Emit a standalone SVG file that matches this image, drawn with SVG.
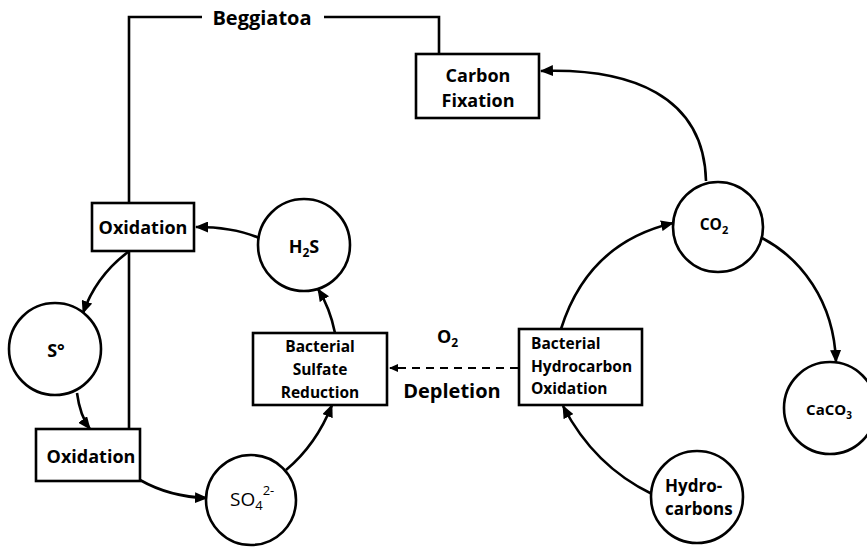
<svg xmlns="http://www.w3.org/2000/svg" width="867" height="547" viewBox="0 0 867 547">
<style>
.shape{fill:#fff;stroke:#000;stroke-width:2.6}
.con{fill:none;stroke:#000;stroke-width:2.6}
.dash{fill:none;stroke:#000;stroke-width:2.2;stroke-dasharray:8 6}
text{font-family:"Open Sans","Liberation Sans",sans-serif;font-weight:700;fill:#000}
.big{font-size:18px}
.mid{font-size:15.5px}
.sm{font-size:15px}
.c{text-anchor:middle}
</style>
<defs>
<marker id="ah" markerUnits="userSpaceOnUse" markerWidth="13" markerHeight="11" refX="12" refY="5.5" orient="auto">
<path d="M0,0 L13,5.5 L0,11 z" fill="#000"/>
</marker>
<marker id="ahs" markerUnits="userSpaceOnUse" markerWidth="9" markerHeight="8" refX="8" refY="4" orient="auto">
<path d="M0,0 L9,4 L0,8 z" fill="#000"/>
</marker>
</defs>
<g id="connectors">
<path class="con" d="M129,428 L129,17 L202,17"/>
<path class="con" d="M324,17 L439,17 L439,54"/>
<path class="con" marker-end="url(#ah)" d="M259,238 Q234,227 196,227"/>
<path class="con" marker-end="url(#ah)" d="M128,252 Q96,276 83,313"/>
<path class="con" marker-end="url(#ah)" d="M77,393 Q80,416 90,429"/>
<path class="con" marker-end="url(#ah)" d="M140,480 Q170,497 207,498"/>
<path class="con" marker-end="url(#ah)" d="M286,470 Q316,445 332,405"/>
<path class="con" marker-end="url(#ah)" d="M335,333 Q330,308 318,289"/>
<path class="dash" marker-end="url(#ahs)" d="M518,368 L390,368"/>
<path class="con" marker-end="url(#ah)" d="M652,494 Q594,466 563,406"/>
<path class="con" marker-end="url(#ah)" d="M561,329 Q588,243 673,223"/>
<path class="con" marker-end="url(#ah)" d="M706,181 C704,95 630,68 541,71"/>
<path class="con" marker-end="url(#ah)" d="M762,238 C800,258 834,300 836,362"/>
</g>
<g id="beggiatoa"><text class="c" x="262" y="25" font-size="20">Beggiatoa</text></g>
<g id="oxidation-top">
<rect class="shape" x="92" y="203" width="102" height="48"/>
<text class="big c" x="143" y="234">Oxidation</text>
</g>
<g id="h2s">
<circle class="shape" cx="304" cy="245" r="46"/>
<text class="big c" x="304" y="253">H<tspan font-size="12" dy="4">2</tspan><tspan dy="-4">S</tspan></text>
</g>
<g id="s0">
<circle class="shape" cx="55" cy="349" r="46"/>
<text class="big c" x="56" y="357">S°</text>
</g>
<g id="oxidation-bottom">
<rect class="shape" x="36" y="429" width="104" height="52"/>
<text class="big c" x="91" y="463">Oxidation</text>
</g>
<g id="so4">
<circle class="shape" cx="251" cy="500" r="45"/>
<text x="230" y="506" font-size="19" style="font-weight:400">SO<tspan font-size="13" dy="4">4</tspan><tspan font-size="13" dy="-15">2-</tspan></text>
</g>
<g id="bsr">
<rect class="shape" x="253" y="333" width="134" height="72"/>
<text class="mid c" x="320" y="352">Bacterial</text>
<text class="mid c" x="320" y="375">Sulfate</text>
<text class="mid c" x="320" y="398">Reduction</text>
</g>
<g id="o2">
<text class="big" x="437" y="343">O<tspan font-size="12" dy="4">2</tspan></text>
<text class="c" x="452" y="398" font-size="20">Depletion</text>
</g>
<g id="bho">
<rect class="shape" x="519" y="329" width="123" height="76"/>
<text class="mid" x="531" y="349">Bacterial</text>
<text class="mid" x="531" y="372">Hydrocarbon</text>
<text class="mid" x="531" y="394">Oxidation</text>
</g>
<g id="hydrocarbons">
<circle class="shape" cx="697" cy="497" r="46"/>
<text x="665" y="492" font-size="17">Hydro-</text>
<text x="665" y="515" font-size="17">carbons</text>
</g>
<g id="co2">
<circle class="shape" cx="718" cy="227" r="45"/>
<text class="mid c" x="714" y="230">CO<tspan font-size="11" dy="4">2</tspan></text>
</g>
<g id="caco3">
<circle class="shape" cx="830" cy="408" r="46"/>
<text class="sm c" x="829" y="415">CaCO<tspan font-size="10" dy="4">3</tspan></text>
</g>
<g id="carbon-fixation">
<rect class="shape" x="416" y="54" width="123" height="64"/>
<text class="big c" x="478" y="82">Carbon</text>
<text class="big c" x="478" y="107">Fixation</text>
</g>
</svg>
